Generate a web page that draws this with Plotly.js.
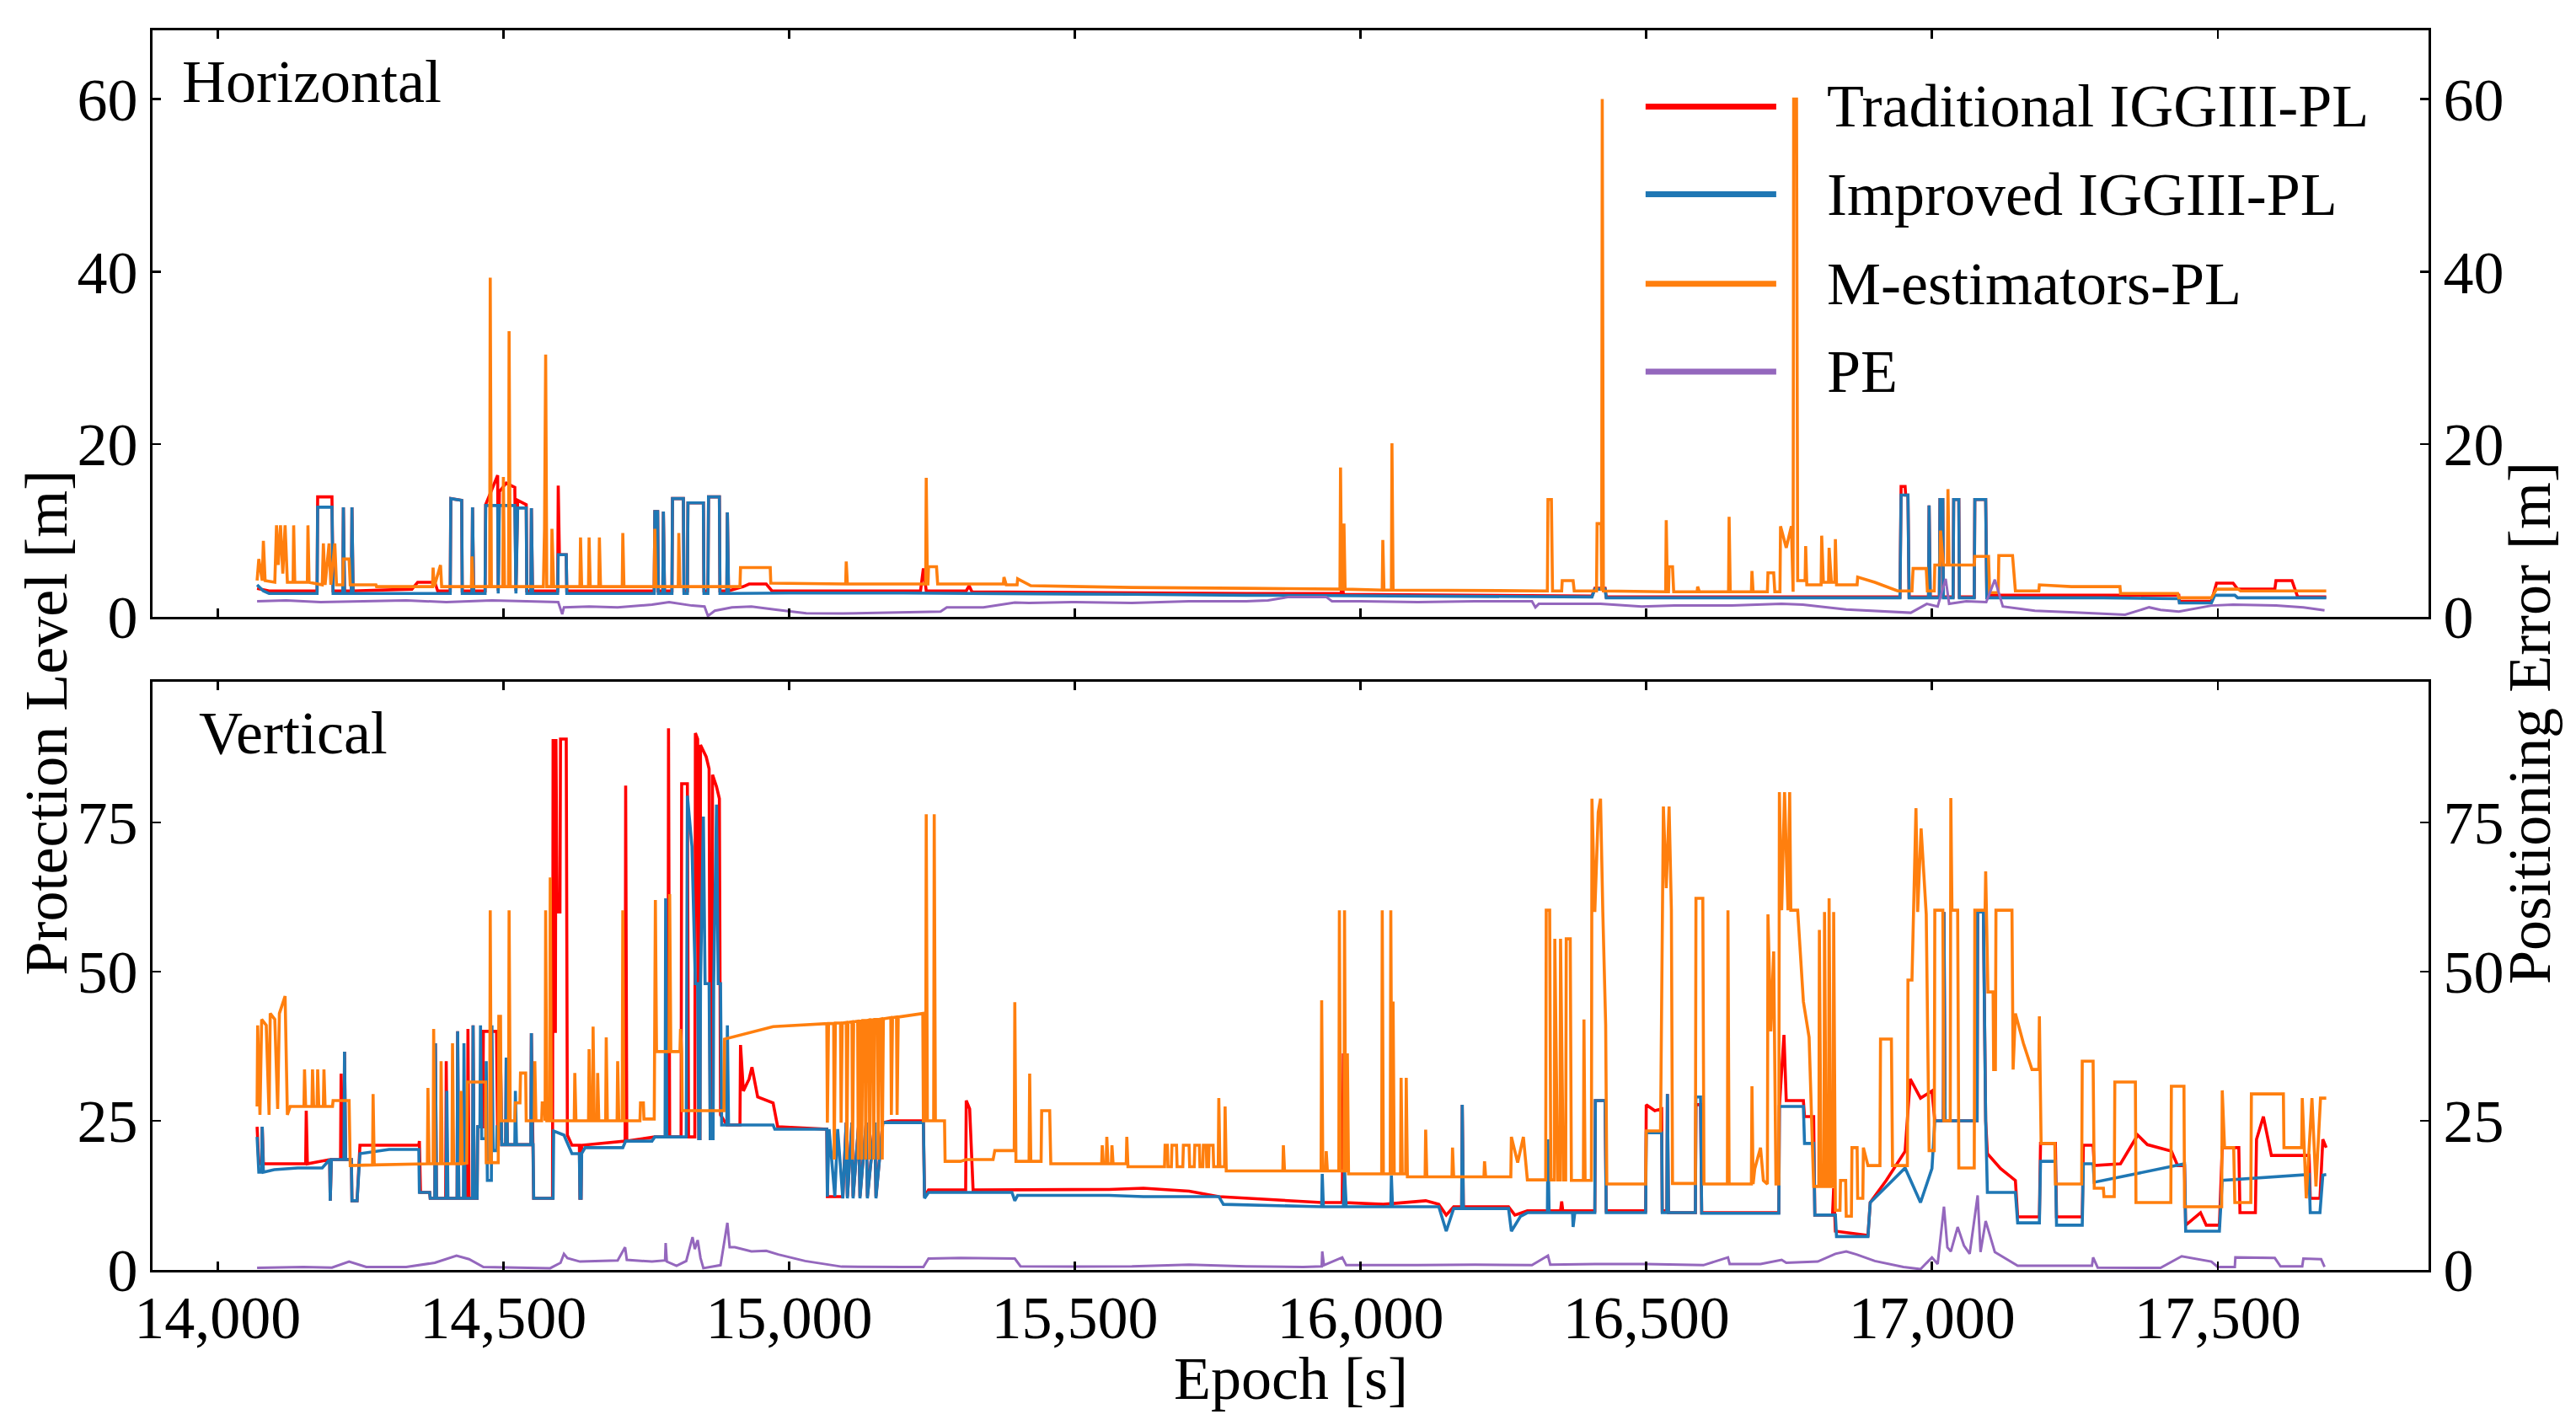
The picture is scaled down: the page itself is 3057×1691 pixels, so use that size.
<!DOCTYPE html>
<html>
<head>
<meta charset="utf-8">
<script src="https://cdn.plot.ly/plotly-3.0.1.min.js"></script>
<style>html,body{margin:0;padding:0;background:#fff;}#chart{width:3057px;height:1691px;}</style>
</head>
<body>
<div id="chart"></div>
<script>
// ---------- DATA (epoch [s], value [m]) ----------
const seriesNames = ["Traditional IGGIII-PL", "Improved IGGIII-PL", "M-estimators-PL", "PE"];
const xTicks = [14000, 14500, 15000, 15500, 16000, 16500, 17000, 17500];
const hTicks = [0, 20, 40, 60];
const vTicks = [0, 25, 50, 75];

// Horizontal panel
const hTrad = [[14069,3.3],[14090,3.0],[14174,3.0],[14175,13.9],[14200,13.9],[14202,3.0],[14219,3.0],[14220,12.7],[14222,3.0],[14234,3.0],[14235,12.7],[14237,3.0],[14340,3.2],[14350,4.0],[14380,4.0],[14385,3.0],[14407,3.0],[14408,13.7],[14427,13.5],[14428,3.0],[14445,3.0],[14446,12.7],[14448,3.0],[14468,3.0],[14469,13.0],[14490,16.4],[14491,3.0],[14493,14.5],[14505,15.5],[14520,15.0],[14522,3.0],[14525,13.5],[14540,13.0],[14541,3.0],[14548,3.0],[14549,12.6],[14551,3.0],[14595,3.0],[14596,15.2],[14598,7.2],[14610,7.2],[14611,3.0],[14764,3.0],[14765,12.2],[14770,12.2],[14771,3.0],[14779,3.0],[14780,12.2],[14782,3.0],[14795,3.0],[14796,13.7],[14815,13.7],[14816,3.0],[14822,3.0],[14823,13.2],[14850,13.2],[14851,3.0],[14858,3.0],[14859,13.9],[14878,13.9],[14879,3.0],[14891,3.0],[14892,12.1],[14894,3.0],[14920,3.5],[14930,3.8],[14960,3.8],[14970,3.0],[15000,3.0],[15230,3.0],[15235,5.6],[15240,3.0],[15310,3.0],[15315,3.6],[15320,2.9],[15500,2.8],[15800,2.7],[15966,2.7],[15968,4.2],[15970,2.6],[16200,2.5],[16405,2.4],[16410,3.3],[16428,3.3],[16430,2.3],[16944,2.3],[16946,15.1],[16953,15.1],[16954,14.1],[16958,14.1],[16960,2.3],[16994,2.3],[16995,12.9],[16997,2.3],[17013,2.3],[17014,13.6],[17019,13.6],[17020,2.3],[17037,2.3],[17038,13.6],[17047,13.6],[17048,2.3],[17074,2.3],[17075,13.6],[17094,13.6],[17096,2.5],[17432,2.5],[17433,1.8],[17489,1.8],[17498,3.9],[17527,3.9],[17535,3.2],[17600,3.2],[17602,4.2],[17630,4.2],[17640,2.3],[17690,2.3]];

const hImp = [[14069,3.7],[14080,3.0],[14090,2.7],[14174,2.7],[14175,12.7],[14200,12.7],[14202,2.7],[14219,2.7],[14220,12.7],[14222,2.7],[14234,2.7],[14235,12.7],[14237,2.7],[14407,2.7],[14408,13.7],[14427,13.5],[14428,2.7],[14445,2.7],[14446,12.7],[14448,2.7],[14468,2.7],[14469,12.9],[14490,12.9],[14491,2.7],[14493,12.9],[14520,12.9],[14522,2.7],[14525,12.6],[14540,12.6],[14541,2.7],[14548,2.7],[14549,12.6],[14551,2.7],[14595,2.7],[14596,7.2],[14610,7.2],[14611,2.7],[14764,2.7],[14765,12.2],[14770,12.2],[14771,2.7],[14779,2.7],[14780,12.2],[14782,2.7],[14795,2.7],[14796,13.7],[14815,13.7],[14816,2.7],[14822,2.7],[14823,13.2],[14850,13.2],[14851,2.7],[14858,2.7],[14859,13.9],[14878,13.9],[14879,2.7],[14891,2.7],[14892,12.1],[14894,2.7],[15000,2.75],[15200,2.75],[15400,2.7],[15600,2.6],[15800,2.5],[16000,2.45],[16200,2.4],[16405,2.3],[16410,3.2],[16428,3.2],[16430,2.2],[16600,2.2],[16944,2.2],[16946,14.1],[16958,14.1],[16960,2.2],[16994,2.2],[16995,12.9],[16997,2.2],[17013,2.2],[17014,13.6],[17019,13.6],[17020,2.2],[17037,2.2],[17038,13.6],[17047,13.6],[17048,2.2],[17074,2.2],[17075,13.6],[17094,13.6],[17096,2.2],[17300,2.2],[17432,2.1],[17433,1.6],[17489,1.6],[17495,2.5],[17530,2.5],[17535,2.2],[17690,2.2]];

const hM = [[14069,4.2],[14072,6.7],[14078,4.2],[14080,8.8],[14083,4.2],[14100,4.0],[14103,10.6],[14106,6.0],[14110,10.6],[14114,5.0],[14118,10.6],[14122,4.0],[14132,4.0],[14133,10.6],[14135,4.0],[14157,4.0],[14158,10.6],[14160,4.0],[14183,3.7],[14185,8.5],[14188,3.7],[14195,8.5],[14198,3.7],[14205,8.5],[14208,3.7],[14219,3.7],[14220,6.7],[14230,6.7],[14232,3.7],[14277,3.7],[14278,3.5],[14376,3.5],[14377,5.7],[14379,3.5],[14390,6.0],[14392,3.5],[14444,3.5],[14445,7.0],[14447,3.5],[14476,3.5],[14477,39.3],[14479,3.5],[14499,3.5],[14500,16.2],[14502,3.5],[14509,3.5],[14510,33.1],[14512,3.5],[14570,3.5],[14572,10.2],[14574,30.4],[14576,3.5],[14584,3.5],[14585,10.2],[14588,3.5],[14634,3.5],[14635,9.2],[14637,3.5],[14649,3.5],[14650,9.2],[14652,3.5],[14667,3.5],[14668,9.2],[14670,3.5],[14708,3.5],[14709,9.7],[14711,3.5],[14764,3.5],[14765,10.2],[14767,3.5],[14806,3.5],[14807,9.7],[14809,3.5],[14914,3.5],[14915,5.7],[14967,5.7],[14968,3.9],[15094,3.8],[15099,3.8],[15100,6.4],[15102,3.8],[15239,3.8],[15240,16.1],[15242,3.8],[15243,3.8],[15244,5.8],[15258,5.8],[15260,3.8],[15375,3.8],[15376,4.6],[15380,3.7],[15399,3.7],[15400,4.4],[15423,3.6],[15600,3.4],[15800,3.3],[15964,3.2],[15965,17.3],[15967,3.2],[15970,3.2],[15971,10.8],[15973,3.2],[16038,3.1],[16039,8.9],[16041,3.1],[16054,3.1],[16055,20.1],[16057,3.1],[16327,3.0],[16328,13.6],[16334,13.6],[16336,3.0],[16352,3.0],[16353,4.2],[16372,4.2],[16374,3.0],[16413,3.0],[16414,10.8],[16421,10.8],[16422,3.0],[16423,60.0],[16425,3.0],[16500,2.9],[16534,2.9],[16535,11.2],[16537,2.9],[16539,2.9],[16540,5.8],[16546,5.8],[16548,2.9],[16589,2.9],[16590,3.5],[16593,2.9],[16644,2.9],[16645,11.6],[16647,2.9],[16684,2.9],[16685,5.3],[16687,2.9],[16712,2.9],[16713,5.1],[16723,5.1],[16725,2.9],[16734,2.9],[16735,10.5],[16745,8.0],[16754,10.5],[16756,2.9],[16757,2.9],[16758,60.0],[16763,60.0],[16765,4.2],[16778,4.2],[16779,8.2],[16781,3.7],[16806,3.7],[16807,9.4],[16810,4.0],[16819,4.0],[16820,8.0],[16824,4.0],[16830,4.0],[16831,9.0],[16833,3.7],[16869,3.7],[16870,4.6],[16900,4.0],[16940,3.0],[16965,3.0],[16967,5.6],[16990,5.6],[16992,3.0],[17004,3.0],[17005,6.0],[17014,6.0],[17015,10.0],[17020,6.0],[17027,6.0],[17028,14.8],[17030,6.0],[17074,6.0],[17075,7.0],[17099,7.0],[17101,2.8],[17116,2.8],[17117,7.1],[17141,7.1],[17146,3.0],[17187,3.0],[17188,3.7],[17244,3.5],[17300,3.5],[17329,3.5],[17330,2.7],[17430,2.7],[17432,2.2],[17489,2.2],[17498,3.2],[17536,3.2],[17540,3.0],[17690,3.0]];

const hPE = [[14069,1.8],[14120,1.9],[14180,1.7],[14250,1.8],[14330,1.9],[14400,1.7],[14480,1.9],[14540,1.8],[14596,1.7],[14603,0.3],[14606,1.1],[14650,1.2],[14700,1.1],[14760,1.4],[14790,1.7],[14830,1.3],[14852,1.2],[14858,0.1],[14870,0.7],[14900,1.1],[14934,1.2],[14980,0.8],[15030,0.4],[15094,0.38],[15180,0.5],[15265,0.6],[15276,1.1],[15340,1.1],[15395,1.65],[15420,1.6],[15500,1.7],[15600,1.6],[15700,1.8],[15800,1.8],[15838,1.9],[15875,2.3],[15940,2.3],[15950,1.8],[16000,1.8],[16100,1.7],[16200,1.8],[16300,1.8],[16306,1.1],[16312,1.5],[16350,1.5],[16420,1.5],[16492,1.2],[16550,1.3],[16650,1.3],[16737,1.5],[16774,1.4],[16850,0.85],[16963,0.47],[16991,1.5],[17010,1.2],[17024,4.4],[17030,1.5],[17060,1.8],[17095,1.7],[17110,4.3],[17124,1.2],[17180,0.7],[17250,0.5],[17338,0.24],[17380,1.1],[17400,0.8],[17432,0.6],[17489,1.3],[17527,1.4],[17602,1.3],[17650,1.1],[17687,0.76]];

// Vertical panel
const vTrad = [[14069,24],[14072,17.8],[14077,17.8],[14078,24],[14080,17.8],[14154,17.8],[14155,26.7],[14157,17.8],[14196,18.5],[14197,11.6],[14199,18.5],[14215,18.5],[14216,32.9],[14218,18.5],[14221,18.5],[14222,36.6],[14224,18.5],[14234,18.5],[14235,11.6],[14244,11.6],[14249,20.9],[14300,20.9],[14352,20.9],[14353,21.6],[14355,13],[14371,13],[14372,12],[14380,12],[14381,38],[14383,12],[14399,12],[14400,35],[14402,12],[14419,12],[14420,40],[14422,12],[14437,12],[14438,40.4],[14440,12],[14446,12],[14447,41],[14449,12],[14454,12],[14455,24],[14464,24],[14465,40],[14488,40],[14490,22],[14494,22],[14495,35.6],[14497,21],[14504,21],[14505,35.6],[14507,21],[14548,21],[14549,39.7],[14551,21],[14552,21],[14553,12],[14586,12],[14587,89],[14589,40],[14591,40],[14592,89],[14594,60],[14599,60],[14600,89],[14610,89],[14611,40],[14612,22.6],[14620,20.9],[14633,20.9],[14634,12],[14636,12],[14637,20.9],[14713,21.6],[14714,81.2],[14716,21.6],[14765,22.3],[14788,22.3],[14789,90.8],[14791,22.3],[14811,22.3],[14812,81.5],[14822,81.5],[14824,22.3],[14835,22.3],[14836,90],[14840,89],[14842,22],[14844,22],[14845,88],[14855,86],[14860,84],[14862,22],[14865,22],[14866,83],[14873,81],[14878,79],[14880,26],[14891,24.3],[14914,24.3],[14915,37.7],[14920,30],[14930,32],[14935,34],[14945,29],[14960,28.5],[14972,28],[14980,24],[15066,23.6],[15067,12.3],[15094,12.3],[15100,24.7],[15102,12.3],[15110,24.7],[15112,12.3],[15122,24.7],[15124,12.3],[15135,24.7],[15137,12.3],[15150,24.7],[15152,12.3],[15164,24.7],[15179,25],[15235,25],[15237,12.3],[15244,13.4],[15309,13.4],[15310,28.4],[15316,27],[15322,13.4],[15400,13.4],[15560,13.5],[15620,13.7],[15700,13.2],[15752,12.3],[15850,11.8],[15932,11.3],[15968,11.3],[15970,36.3],[15972,11.3],[16040,11],[16114,11.6],[16137,11],[16150,9.2],[16163,10.6],[16177,10.6],[16178,27.7],[16180,10.6],[16259,10.6],[16270,9.2],[16292,9.9],[16350,9.9],[16352,11.5],[16354,9.9],[16410,9.9],[16411,28.4],[16428,28.4],[16430,9.9],[16499,9.9],[16500,27.7],[16515,26.7],[16527,27],[16528,9.9],[16536,9.9],[16537,29.5],[16539,9.6],[16586,9.6],[16587,27.7],[16595,27.7],[16597,9.6],[16732,9.6],[16733,27.4],[16741,39.4],[16745,28.4],[16775,28.4],[16777,25.7],[16793,25.7],[16795,9.2],[16826,9.2],[16828,13.7],[16831,6.5],[16888,5.8],[16892,11.3],[16920,15],[16953,19.9],[16962,32],[16980,28.8],[17000,30],[17005,25],[17020,25],[17021,60],[17023,25],[17060,25],[17079,25],[17080,60],[17090,60],[17094,25],[17097,19.5],[17120,17],[17146,15],[17150,8.9],[17188,8.9],[17190,21.2],[17216,21.2],[17218,8.9],[17263,8.9],[17265,20.9],[17282,20.9],[17284,17.5],[17330,17.8],[17360,22.6],[17377,21],[17419,19.9],[17430,17.5],[17442,17.5],[17444,7.5],[17470,9.6],[17480,7.5],[17503,7.5],[17508,20.5],[17537,20.5],[17539,9.6],[17566,9.6],[17568,21.9],[17580,25.7],[17594,19.2],[17660,19.2],[17662,12],[17679,12],[17684,21.9],[17690,20.5]];

const vImp = [[14069,22.3],[14072,16.4],[14077,16.4],[14078,24],[14080,16.4],[14099,16.8],[14140,17.1],[14183,17.1],[14196,18.5],[14197,11.6],[14199,18.5],[14221,18.5],[14222,36.6],[14224,18.5],[14234,18.5],[14235,11.6],[14244,11.6],[14249,19.5],[14300,20.2],[14352,20.2],[14353,13],[14371,13],[14372,12],[14380,12],[14381,38],[14383,12],[14400,12],[14401,30],[14403,12],[14419,12],[14420,40],[14422,12],[14430,12],[14431,38],[14433,12],[14446,12],[14447,41],[14449,12],[14454,12],[14455,24],[14459,24],[14460,41],[14462,22],[14469,22],[14470,35],[14472,15],[14479,15],[14480,41],[14482,20],[14488,20],[14489,24],[14494,24],[14495,35.6],[14497,21],[14504,21],[14505,35.6],[14507,21],[14520,21],[14521,30],[14523,21],[14548,21],[14549,39.7],[14551,21],[14552,21],[14553,12],[14587,12],[14588,23.3],[14606,22.6],[14620,19.5],[14633,19.5],[14634,12],[14636,12],[14637,19.5],[14643,20.5],[14709,20.5],[14714,21.6],[14760,21.6],[14765,22.3],[14783,22.3],[14784,62.3],[14786,22.3],[14820,22.3],[14822,79.5],[14830,71],[14836,48],[14840,48],[14842,22],[14844,22],[14845,48],[14850,76],[14853,48],[14860,48],[14862,22],[14867,22],[14868,48],[14873,78],[14876,48],[14880,48],[14882,24.3],[14891,24.3],[14892,41],[14894,24.3],[14972,24.3],[14975,23.6],[15066,23.6],[15067,12.3],[15070,23.6],[15080,12.3],[15085,23.6],[15094,12],[15100,24.7],[15102,12],[15110,24.7],[15112,12],[15122,24.7],[15124,12],[15135,24.7],[15137,12],[15150,24.7],[15152,12],[15164,24.7],[15179,24.7],[15235,24.7],[15237,12],[15244,13],[15390,13],[15395,11.6],[15400,12.5],[15560,12.5],[15620,12.3],[15752,12.3],[15760,11],[15932,10.6],[15933,16.1],[15935,10.6],[15970,10.6],[15972,16.8],[15975,10.6],[16053,10.6],[16054,15.8],[16056,10.6],[16137,10.6],[16150,6.5],[16163,10.3],[16177,10.3],[16178,27.7],[16180,10.3],[16259,10.3],[16264,6.5],[16280,9],[16292,9.6],[16327,9.6],[16328,21.9],[16330,9.6],[16371,9.6],[16372,7.2],[16375,9.6],[16410,9.6],[16411,28.4],[16428,28.4],[16430,9.6],[16499,9.6],[16500,23],[16527,23],[16528,9.6],[16536,9.6],[16537,29.5],[16539,9.6],[16586,9.6],[16587,29],[16595,29],[16597,9.5],[16732,9.5],[16733,27.4],[16775,27.4],[16777,21.2],[16793,21.2],[16795,9.2],[16831,9.2],[16833,5.6],[16888,5.6],[16892,11.3],[16920,14],[16953,17.1],[16980,11.3],[17000,17],[17005,25],[17020,25],[17021,60],[17023,25],[17060,25],[17079,25],[17080,60],[17090,60],[17094,25],[17097,13],[17146,13],[17150,7.9],[17188,7.9],[17190,18.2],[17216,18.2],[17218,7.5],[17263,7.5],[17265,17.8],[17282,17.8],[17284,14.7],[17442,17.8],[17444,6.5],[17503,6.5],[17508,15],[17660,16],[17662,9.6],[17679,9.6],[17684,15.9],[17690,16]];

const vM = [[14069,27.4],[14070,41],[14074,26],[14077,42],[14085,41],[14090,26],[14092,43],[14100,42],[14105,27],[14108,43],[14118,45.9],[14122,26],[14127,27.4],[14151,27.4],[14152,33.6],[14154,27.4],[14165,27.4],[14166,33.6],[14168,27.4],[14174,27.4],[14175,33.6],[14177,27.4],[14185,27.4],[14186,33.6],[14188,27.4],[14201,27.4],[14202,28.4],[14230,28.4],[14232,17.5],[14271,17.6],[14272,29.5],[14274,17.6],[14367,17.8],[14368,30.5],[14370,17.8],[14377,17.8],[14378,40.4],[14380,17.8],[14390,17.8],[14391,35],[14393,17.8],[14410,17.8],[14411,38],[14413,17.8],[14425,17.8],[14426,30],[14428,17.8],[14436,17.9],[14437,31.5],[14469,31.5],[14470,18],[14476,18],[14477,60.3],[14479,18],[14491,18],[14492,42.5],[14495,42.5],[14496,25],[14509,25],[14510,60.3],[14512,25],[14520,25],[14521,28],[14529,28],[14530,33],[14539,33],[14540,25],[14554,25],[14555,35],[14557,25],[14567,25],[14568,28],[14572,28],[14573,25],[14574,60.3],[14576,25],[14581,25],[14582,65.8],[14584,25],[14624,25],[14625,33],[14627,25],[14649,25],[14650,37],[14652,25],[14656,25],[14657,40.8],[14659,25],[14664,25],[14665,33],[14667,25],[14679,25],[14680,39],[14682,25],[14699,25],[14700,35],[14702,25],[14708,25],[14709,60.3],[14711,25],[14739,25],[14740,28],[14745,28],[14746,25.3],[14764,25.3],[14765,36.6],[14766,62],[14768,36.6],[14790,36.6],[14791,63],[14793,36.6],[14809,36.6],[14810,40.4],[14812,36.6],[14813,26.7],[14886,26.7],[14887,38.7],[14972,40.8],[15060,41.3],[15066,41.3],[15067,24.7],[15069,41.3],[15078,41.3],[15079,18.5],[15081,41.4],[15090,41.4],[15091,24.7],[15093,41.4],[15100,41.5],[15101,18.5],[15103,41.5],[15110,41.6],[15111,18.5],[15113,41.6],[15120,41.7],[15121,18.5],[15123,41.7],[15126,41.7],[15127,18.5],[15129,41.8],[15133,41.8],[15134,18.5],[15136,41.8],[15140,41.9],[15141,18.5],[15143,41.9],[15147,41.9],[15148,18.5],[15150,42],[15155,42],[15156,18.5],[15158,42],[15162,42.1],[15163,18.5],[15165,42.1],[15178,42.3],[15179,26],[15181,42.3],[15188,42.4],[15189,26],[15191,42.4],[15234,43],[15235,25],[15239,25],[15240,76.4],[15242,25],[15253,25],[15254,76.4],[15256,25],[15272,25],[15273,18.2],[15300,18.2],[15310,18.5],[15357,18.5],[15360,20],[15394,20],[15395,44.9],[15397,18.2],[15420,18.2],[15421,32.9],[15423,18.2],[15441,18.2],[15442,26.7],[15456,26.7],[15458,17.8],[15547,17.8],[15548,20.9],[15550,17.8],[15555,17.8],[15556,22.3],[15558,17.8],[15564,17.8],[15565,20.9],[15567,17.8],[15590,17.8],[15591,22.3],[15593,17.3],[15657,17.3],[15658,20.9],[15662,20.9],[15663,17.3],[15669,17.3],[15670,20.9],[15678,20.9],[15679,17.3],[15689,17.3],[15690,20.9],[15700,20.9],[15701,17.3],[15709,17.3],[15710,20.9],[15718,20.9],[15719,17.3],[15724,17.3],[15725,20.9],[15730,20.9],[15731,17.3],[15734,17.3],[15735,20.9],[15742,20.9],[15743,17.3],[15751,17.3],[15752,28.8],[15754,17.3],[15762,17.3],[15763,27.4],[15765,16.6],[15864,16.6],[15865,20.9],[15867,16.6],[15931,16.6],[15932,45.2],[15934,16.6],[15939,16.6],[15940,19.9],[15942,16.6],[15962,16.6],[15963,60.3],[15965,16.6],[15971,16.6],[15972,60.3],[15974,16.6],[15976,16.6],[15977,36.3],[15979,16.1],[16037,16.1],[16038,60.3],[16040,16.1],[16052,16.1],[16053,60.3],[16055,16.1],[16056,16.1],[16057,45],[16059,16.1],[16070,16.1],[16071,32.2],[16073,16.1],[16079,16.1],[16080,32.2],[16082,15.6],[16113,15.6],[16114,23.5],[16116,15.6],[16160,15.6],[16161,20.5],[16163,15.6],[16216,15.6],[16217,18.2],[16219,15.6],[16263,15.6],[16264,22.3],[16275,18],[16285,22.3],[16292,15.1],[16324,15.1],[16325,60.3],[16331,60.3],[16333,15.1],[16339,15.1],[16340,55.5],[16345,15.1],[16349,15.1],[16350,55.5],[16355,15.1],[16359,15.1],[16360,55.5],[16367,55.5],[16369,15],[16390,15],[16391,42],[16393,15],[16404,15],[16405,79],[16410,60],[16416,76.7],[16420,79],[16424,60],[16429,41],[16431,14.4],[16499,14.4],[16500,23.3],[16525,23.3],[16530,77.7],[16535,64],[16540,77.7],[16544,60.3],[16546,14.5],[16586,14.5],[16587,62.3],[16599,62.3],[16601,14.4],[16642,14.4],[16643,60.3],[16645,14.4],[16684,14.4],[16685,30.8],[16687,14.4],[16690,17],[16700,20.5],[16705,15],[16712,14.4],[16713,59.6],[16718,40],[16723,53.4],[16727,14.4],[16732,14.4],[16733,80.1],[16737,60.3],[16742,80.1],[16748,60.3],[16751,80.1],[16753,60.3],[16765,60.3],[16768,55],[16775,45],[16785,39],[16793,14],[16802,14],[16803,57],[16806,14],[16811,14],[16812,60],[16815,14],[16819,14],[16820,62.3],[16823,14],[16827,14],[16828,60],[16831,10],[16839,10],[16840,15],[16849,15],[16850,9],[16859,9],[16860,20.5],[16869,20.5],[16870,12],[16879,12],[16880,20.5],[16888,17.5],[16909,17.5],[16910,38.7],[16929,38.7],[16931,17.5],[16957,17.5],[16958,48.6],[16965,48.6],[16972,77.4],[16975,60],[16981,74],[16990,59.6],[16995,20],[17004,20],[17005,60.3],[17019,60.3],[17021,25],[17032,25],[17033,79.1],[17035,60.3],[17045,60.3],[17047,17.1],[17074,17.1],[17075,60.3],[17093,60.3],[17094,66.8],[17098,46.6],[17107,46.6],[17108,33.6],[17111,33.6],[17112,60.3],[17140,60.3],[17142,33.6],[17146,43],[17160,38],[17175,33.6],[17187,33.6],[17188,42.5],[17191,21.2],[17215,21.2],[17216,14.4],[17262,14.4],[17263,35],[17282,35],[17284,13.7],[17300,13.7],[17301,12.3],[17319,12.3],[17320,31.5],[17356,31.5],[17357,11.3],[17418,11.3],[17419,30.8],[17441,30.8],[17442,10.6],[17507,10.6],[17508,30.1],[17512,20.5],[17528,20.5],[17530,11.3],[17558,11.3],[17559,29.5],[17615,29.5],[17616,20.5],[17647,20.5],[17648,28.8],[17655,12],[17665,28.8],[17672,14],[17680,28.8],[17690,28.8]];

const vPE = [[14069,0.34],[14150,0.5],[14200,0.4],[14230,1.4],[14260,0.5],[14330,0.5],[14380,1.2],[14418,2.4],[14440,1.8],[14465,0.5],[14582,0.3],[14600,1.2],[14606,2.7],[14612,2.0],[14634,1.4],[14700,1.6],[14713,3.8],[14716,1.7],[14760,1.4],[14783,1.6],[14784,4.5],[14786,1.4],[14803,0.7],[14820,1.5],[14831,5.5],[14835,3.5],[14840,5.0],[14845,2.0],[14850,0.3],[14880,0.8],[14892,7.9],[14896,3.8],[14905,3.8],[14934,3.1],[14960,3.2],[14981,2.6],[15028,1.5],[15092,0.55],[15200,0.5],[15235,0.5],[15244,1.9],[15300,2.0],[15395,1.9],[15405,0.6],[15500,0.55],[15600,0.6],[15700,0.9],[15800,0.6],[15900,0.5],[15932,0.6],[15933,3.1],[15936,0.8],[15968,2.1],[15975,0.8],[16100,0.8],[16200,0.9],[16300,0.8],[16328,2.4],[16332,0.9],[16410,1.0],[16500,1.0],[16600,0.8],[16643,2.1],[16646,1.0],[16700,1.0],[16737,1.7],[16745,1.2],[16800,1.4],[16831,2.7],[16850,3.1],[16868,2.6],[16900,1.5],[16950,0.5],[16980,0.14],[17000,2.1],[17010,1.0],[17021,10.6],[17027,3.8],[17033,3.1],[17045,7.2],[17056,4.1],[17066,2.7],[17080,12.5],[17085,3.0],[17094,8.2],[17110,3.0],[17150,0.7],[17280,0.7],[17282,2.1],[17290,0.4],[17400,0.34],[17437,2.3],[17489,1.4],[17500,0.5],[17530,0.5],[17531,2.1],[17600,2.0],[17610,0.6],[17648,0.6],[17650,1.9],[17681,1.8],[17687,0.5]];

// ---------- STYLE ----------
const colors = ["#ff0000", "#1f77b4", "#ff7f0e", "#9467bd"];
const FONT = "Liberation Serif, Times New Roman, serif";
const FS = 72;

function tr(data, xa, ya, i) {
  return {
    type: "scatter", mode: "lines",
    x: data.map(p => p[0]), y: data.map(p => p[1]),
    xaxis: xa, yaxis: ya, name: seriesNames[i],
    line: { color: colors[i], width: i === 3 ? 3 : 3.6 },
    showlegend: false, hoverinfo: "skip"
  };
}

const traces = [
  tr(hTrad, "x", "y", 0), tr(hImp, "x", "y", 1), tr(hM, "x", "y", 2), tr(hPE, "x", "y2", 3),
  tr(vTrad, "x2", "y3", 0), tr(vImp, "x2", "y3", 1), tr(vM, "x2", "y3", 2), tr(vPE, "x2", "y4", 3)
];

const XR = [13886, 17869];
const HR = [0, 67.97];
const VR = [0, 98.6];
const axBase = {
  showgrid: false, zeroline: false, showline: true, linecolor: "#000", linewidth: 3,
  ticks: "inside", ticklen: 10, tickwidth: 2.5, tickcolor: "#000",
  tickfont: { family: FONT, size: FS, color: "#000" }
};

const legendY = [0.9385, 0.8677, 0.7955, 0.7247];
const shapes = legendY.map((yy, i) => ({
  type: "line", xref: "paper", yref: "paper", x0: 0.656, x1: 0.7134, y0: yy, y1: yy,
  line: { color: colors[i], width: 7 }
}));
const ann = (text, x, y, extra) => Object.assign({
  text: text, x: x, y: y, xref: "paper", yref: "paper", showarrow: false,
  xanchor: "left", yanchor: "middle", font: { family: FONT, size: FS, color: "#000" }
}, extra || {});
const annotations = legendY.map((yy, i) => ann(seriesNames[i], 0.7349, yy));
annotations.push(ann("Horizontal", 0.0122, 0.9585));
annotations.push(ann("Vertical", 0.0196, 0.433));
annotations.push(ann("Epoch [s]", 0.5, -0.088, { xanchor: "center" }));
annotations.push(ann("Protection Level [m]", -0.0468, 0.4412, { xanchor: "center", textangle: -90 }));
annotations.push(ann("Positioning Error [m]", 1.0444, 0.4412, { xanchor: "center", textangle: -90 }));

const layout = {
  width: 3057, height: 1691,
  margin: { l: 181, r: 175, t: 36, b: 184, pad: 0 },
  paper_bgcolor: "#fff", plot_bgcolor: "#fff",
  showlegend: false,
  font: { family: FONT, size: FS, color: "#000" },
  xaxis: Object.assign({}, axBase, { domain: [0, 1], anchor: "y", range: XR, tickvals: xTicks, showticklabels: false, mirror: "ticks" }),
  yaxis: Object.assign({}, axBase, { domain: [0.5269, 1], anchor: "x", range: HR, tickvals: hTicks }),
  yaxis2: Object.assign({}, axBase, { overlaying: "y", side: "right", anchor: "x", range: HR, tickvals: hTicks }),
  xaxis2: Object.assign({}, axBase, { domain: [0, 1], anchor: "y3", range: XR, tickvals: xTicks, tickformat: ",", mirror: "ticks", ticklabelstandoff: -8 }),
  yaxis3: Object.assign({}, axBase, { domain: [0, 0.4745], anchor: "x2", range: VR, tickvals: vTicks }),
  yaxis4: Object.assign({}, axBase, { overlaying: "y3", side: "right", anchor: "x2", range: VR, tickvals: vTicks }),
  shapes: shapes,
  annotations: annotations
};

Plotly.newPlot("chart", traces, layout, { staticPlot: true, displayModeBar: false });
</script>
</body>
</html>
